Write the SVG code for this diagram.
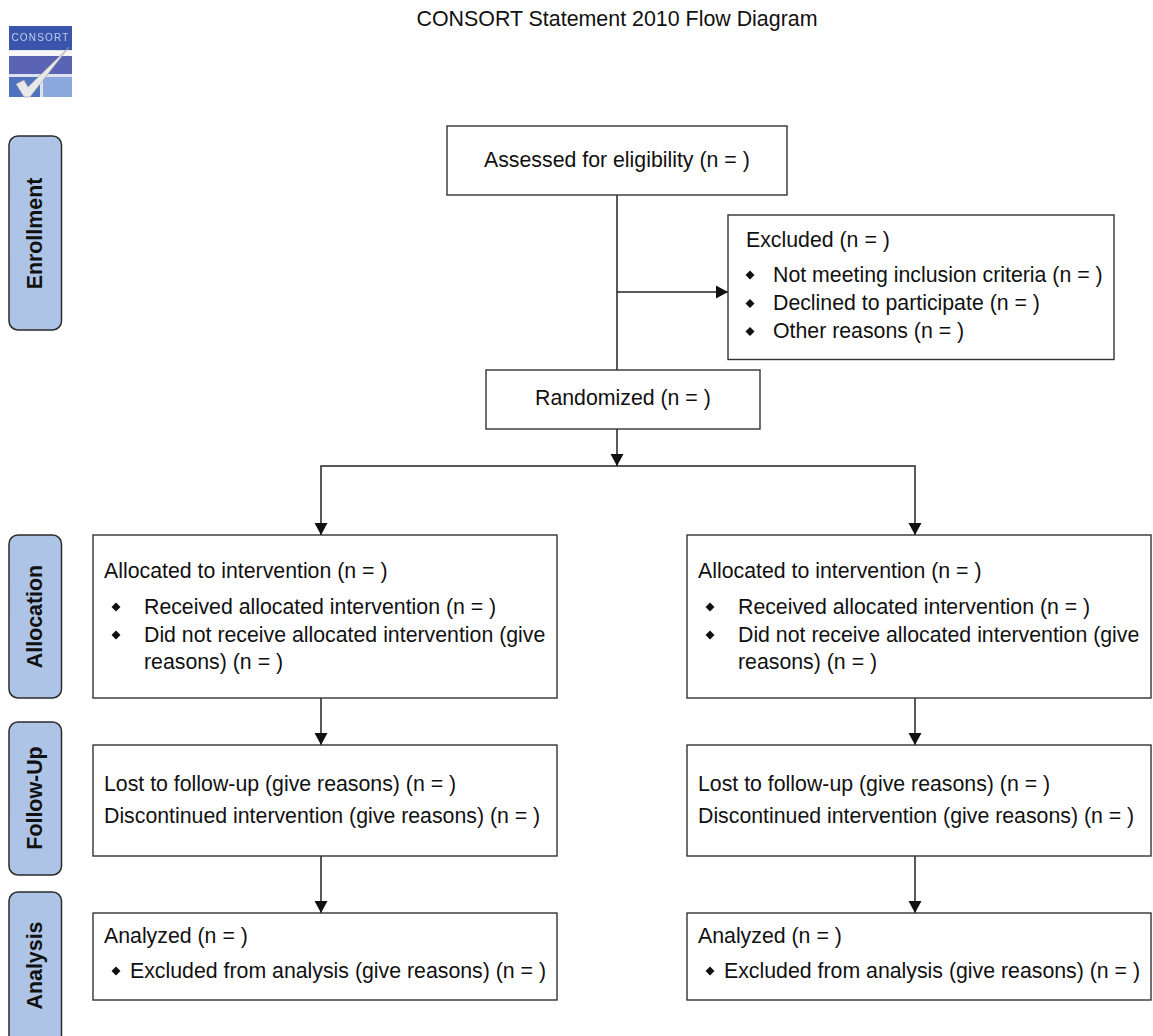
<svg xmlns="http://www.w3.org/2000/svg" width="1153" height="1036" viewBox="0 0 1153 1036">
<style>
text{font-family:"Liberation Sans",Arial,sans-serif;font-size:21.3px;fill:#111}
.box{fill:#fff;stroke:#333;stroke-width:1.4}
.side{fill:#aec4e6;stroke:#2a2a2a;stroke-width:1.5}
.sl{font-weight:bold;font-size:21.4px;text-anchor:middle}
.c{fill:none;stroke:#222;stroke-width:1.5}
.b{fill:#111}
</style>
<defs>
<marker id="a" markerUnits="userSpaceOnUse" markerWidth="13" markerHeight="14" refX="12" refY="7" orient="auto"><path d="M0 0.500L12 7L0 13.500Z" fill="#111"/></marker>
<path id="d" d="M0-4.500L4.500 0L0 4.500L-4.500 0Z"/>
<filter id="soft" x="-5%" y="-5%" width="110%" height="110%"><feGaussianBlur stdDeviation="0.6"/></filter>
</defs>
<text x="617" y="26" text-anchor="middle" style="font-size:21.4px">CONSORT Statement 2010 Flow Diagram</text>
<g id="logo" filter="url(#soft)">
<rect x="9" y="26" width="63" height="71" fill="#dfe3ee"/>
<rect x="9" y="26" width="63" height="24" fill="#3a54ac"/>
<text x="40.500" y="41" text-anchor="middle" style="font-size:10px;letter-spacing:1.200px;fill:#bcd0ee">CONSORT</text>
<rect x="9" y="51" width="63" height="5" fill="#f6f6f6"/>
<rect x="9" y="56" width="63" height="18" fill="#5a64b4"/>
<rect x="9" y="77" width="31" height="20" fill="#4f72c0"/>
<rect x="43" y="77" width="29" height="20" fill="#8aa8dc"/>
<path d="M16 84L24 80L28 87L69 47L30 97L24 97Z" fill="#e8e8e8" stroke="#999" stroke-width=".6"/>
</g>
<g id="enrollment"><rect class="side" x="9" y="136" width="52.500" height="194" rx="9"/><text class="sl" transform="translate(42 233.500) rotate(-90)">Enrollment</text></g>
<g id="allocation"><rect class="side" x="9" y="535" width="52.500" height="163" rx="9"/><text class="sl" transform="translate(42 616.500) rotate(-90)">Allocation</text></g>
<g id="follow-up"><rect class="side" x="9" y="722" width="52.500" height="153" rx="9"/><text class="sl" transform="translate(42 798) rotate(-90)">Follow-Up</text></g>
<g id="analysis"><path class="side" d="M9 1037V901a9 9 0 0 1 9-9H52.500a9 9 0 0 1 9 9V1037"/><text class="sl" transform="translate(42 965.500) rotate(-90)">Analysis</text></g>
<g id="connectors">
<path class="c" d="M617 195V370"/>
<path class="c" d="M617 292H728" marker-end="url(#a)"/>
<path class="c" d="M617 429V466" marker-end="url(#a)"/>
<path class="c" d="M617 466H321V535" marker-end="url(#a)"/>
<path class="c" d="M617 466H915V535" marker-end="url(#a)"/>
<path class="c" d="M321 698V745" marker-end="url(#a)"/>
<path class="c" d="M915 698V745" marker-end="url(#a)"/>
<path class="c" d="M321 856V913" marker-end="url(#a)"/>
<path class="c" d="M915 856V913" marker-end="url(#a)"/>
</g>
<g id="assessed"><rect class="box" x="447" y="126" width="340" height="69"/><text x="484" y="167">Assessed for eligibility (n = )</text></g>
<g id="excluded"><rect class="box" x="728" y="215" width="386" height="144.500"/><text x="746" y="247">Excluded (n = )</text>
<use href="#d" class="b" x="750" y="275"/><text x="773" y="282">Not meeting inclusion criteria (n = )</text>
<use href="#d" class="b" x="750" y="303.500"/><text x="773" y="310">Declined to participate (n = )</text>
<use href="#d" class="b" x="750" y="331.500"/><text x="773" y="338">Other reasons (n = )</text></g>
<g id="randomized"><rect class="box" x="486" y="370" width="274" height="59"/><text x="535" y="405">Randomized (n = )</text></g>
<g id="alloc-left"><rect class="box" x="93" y="535" width="464" height="163"/><text x="104" y="578">Allocated to intervention (n = )</text>
<use href="#d" class="b" x="116" y="607"/><text x="144" y="614">Received allocated intervention (n = )</text>
<use href="#d" class="b" x="116" y="635"/><text x="144" y="642">Did not receive allocated intervention (give</text><text x="144" y="669">reasons) (n = )</text></g>
<g id="alloc-right"><rect class="box" x="687" y="535" width="464" height="163"/><text x="698" y="578">Allocated to intervention (n = )</text>
<use href="#d" class="b" x="710" y="607"/><text x="738" y="614">Received allocated intervention (n = )</text>
<use href="#d" class="b" x="710" y="635"/><text x="738" y="642">Did not receive allocated intervention (give</text><text x="738" y="669">reasons) (n = )</text></g>
<g id="follow-left"><rect class="box" x="93" y="745" width="464" height="111"/><text x="104" y="791">Lost to follow-up (give reasons) (n = )</text><text x="104" y="823">Discontinued intervention (give reasons) (n = )</text></g>
<g id="follow-right"><rect class="box" x="687" y="745" width="464" height="111"/><text x="698" y="791">Lost to follow-up (give reasons) (n = )</text><text x="698" y="823">Discontinued intervention (give reasons) (n = )</text></g>
<g id="analyzed-left"><rect class="box" x="93" y="913" width="464" height="87"/><text x="104" y="943">Analyzed (n = )</text>
<use href="#d" class="b" x="116" y="971"/><text x="130" y="978">Excluded from analysis (give reasons) (n = )</text></g>
<g id="analyzed-right"><rect class="box" x="687" y="913" width="464" height="87"/><text x="698" y="943">Analyzed (n = )</text>
<use href="#d" class="b" x="710" y="971"/><text x="724" y="978">Excluded from analysis (give reasons) (n = )</text></g>
</svg>
